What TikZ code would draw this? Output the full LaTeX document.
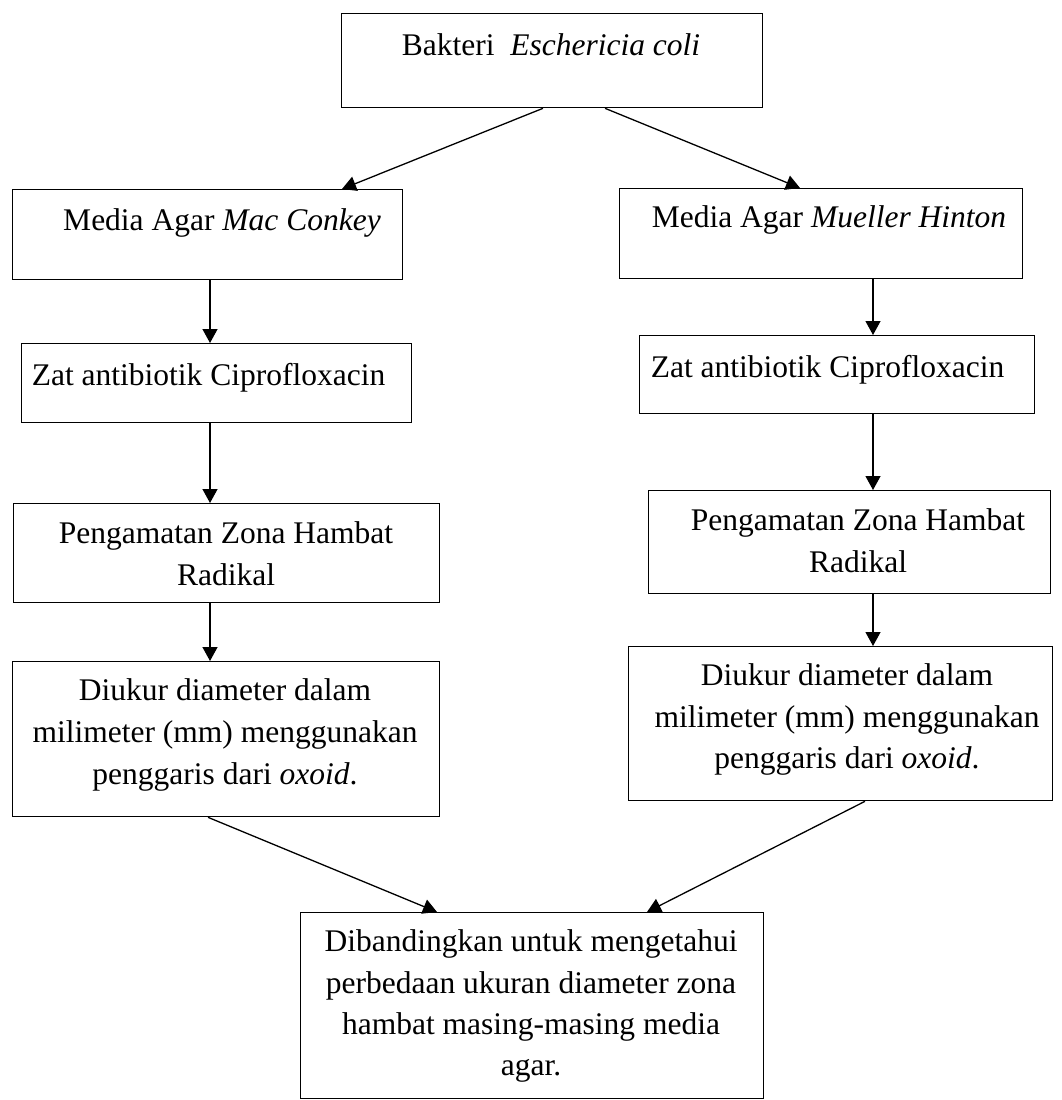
\documentclass[tikz,border=0pt]{standalone}
\usepackage{fontspec}
\setmainfont{Liberation Serif}
\usetikzlibrary{arrows.meta}
\begin{document}
\begin{tikzpicture}[x=1pt,y=-1pt,
  box/.style={draw, line width=1.3pt, inner sep=0pt, anchor=north west},
  txt/.style={anchor=base, inner sep=0pt, font=\fontsize{31.5}{42}\selectfont},
  arr/.style={line width=1.3pt, -{Triangle[length=14pt,width=15pt]}}]
\useasboundingbox (0,0) rectangle (1061,1100);
% boxes
\node[box, minimum width=421pt, minimum height=94pt] (top) at (341,13) {};
\node[box, minimum width=390pt, minimum height=90pt] (mac) at (12,189) {};
\node[box, minimum width=403pt, minimum height=90pt] (mue) at (619,188) {};
\node[box, minimum width=390pt, minimum height=79pt] (zatL) at (21,343) {};
\node[box, minimum width=395pt, minimum height=78pt] (zatR) at (639,335) {};
\node[box, minimum width=426pt, minimum height=99pt] (pengL) at (13,503) {};
\node[box, minimum width=402pt, minimum height=103pt] (pengR) at (648,490) {};
\node[box, minimum width=427pt, minimum height=155pt] (dukL) at (12,661) {};
\node[box, minimum width=424pt, minimum height=154pt] (dukR) at (628,646) {};
\node[box, minimum width=463pt, minimum height=186pt] (bot) at (300,912) {};
% texts
\node[txt] (t1) at (551,55) {Bakteri\ \ \textit{Eschericia coli}};
\node[txt] (t2) at (222,230) {Media Agar \textit{Mac Conkey}};
\node[txt] (t3) at (829,227) {Media Agar \textit{Mueller Hinton}};
\node[txt] (t4) at (208.5,385) {Zat antibiotik Ciprofloxacin};
\node[txt] (t5) at (827.5,377) {Zat antibiotik Ciprofloxacin};
\node[txt] (t6a) at (226,543) {Pengamatan Zona Hambat};
\node[txt] (t6b) at (226,585) {Radikal};
\node[txt] (t7a) at (858,530) {Pengamatan Zona Hambat};
\node[txt] (t7b) at (858,572) {Radikal};
\node[txt] (t8a) at (225,700) {Diukur diameter dalam};
\node[txt] (t8b) at (225,742) {milimeter (mm) menggunakan};
\node[txt] (t8c) at (225,784) {penggaris dari \textit{oxoid}.};
\node[txt] (t9a) at (847,685) {Diukur diameter dalam};
\node[txt] (t9b) at (847,727) {milimeter (mm) menggunakan};
\node[txt] (t9c) at (847,768) {penggaris dari \textit{oxoid}.};
\node[txt] (t10a) at (531,951) {Dibandingkan untuk mengetahui};
\node[txt] (t10b) at (531,993) {perbedaan ukuran diameter zona};
\node[txt] (t10c) at (531,1034) {hambat masing-masing media};
\node[txt] (t10d) at (531,1075) {agar.};
% connector x positions
\coordinate (cl) at (210,0);
\coordinate (cr) at (873,0);
\coordinate (a1s) at (543,0);
\coordinate (a1e) at (342,0);
\coordinate (a2s) at (605,0);
\coordinate (a2e) at (800,0);
\coordinate (b1s) at (208,0);
\coordinate (b1e) at (437,0);
\coordinate (b2s) at (865,0);
\coordinate (b2e) at (647,0);
% connectors
\draw[arr] (top.south -| a1s) -- (mac.north -| a1e);
\draw[arr] (top.south -| a2s) -- (mue.north -| a2e);
\draw[arr] (mac.south -| cl) -- (zatL.north -| cl);
\draw[arr] (zatL.south -| cl) -- (pengL.north -| cl);
\draw[arr] (pengL.south -| cl) -- (dukL.north -| cl);
\draw[arr] (mue.south -| cr) -- (zatR.north -| cr);
\draw[arr] (zatR.south -| cr) -- (pengR.north -| cr);
\draw[arr] (pengR.south -| cr) -- (dukR.north -| cr);
\draw[arr] (dukL.south -| b1s) -- (bot.north -| b1e);
\draw[arr] (dukR.south -| b2s) -- (bot.north -| b2e);
\end{tikzpicture}
\end{document}
